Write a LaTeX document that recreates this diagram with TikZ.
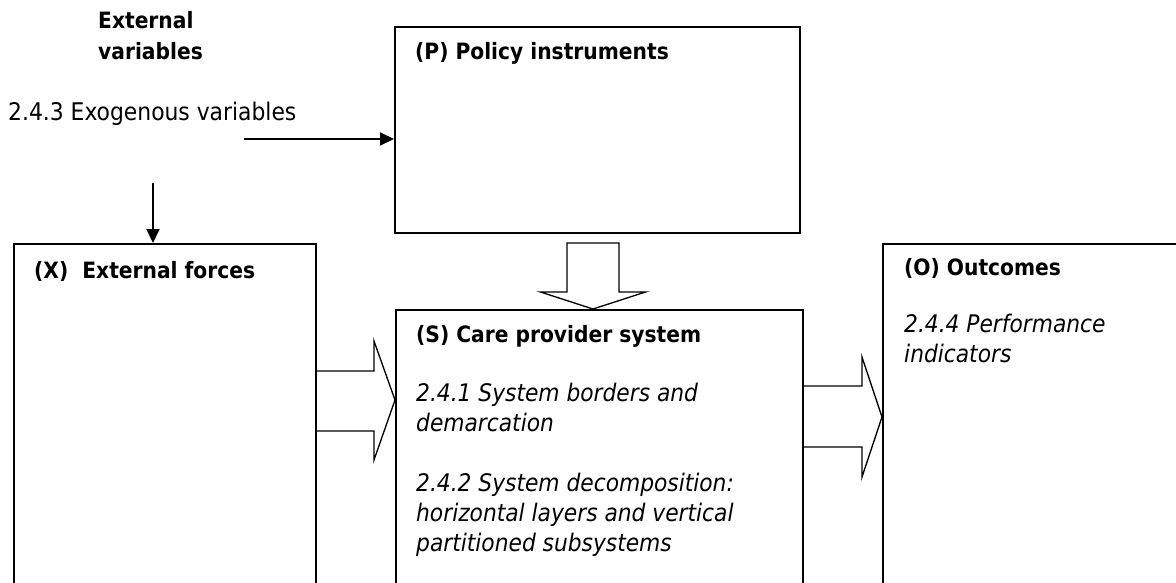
\documentclass[tikz,border=0pt]{standalone}
\usepackage{fontspec}
\setmainfont{DejaVu Sans Condensed}
\usetikzlibrary{arrows.meta,calc}
\begin{document}
\begin{tikzpicture}[x=1pt,y=-1pt,
  box/.style={draw,line width=2pt,rectangle,inner sep=0pt,anchor=north west},
  txt/.style={anchor=base west,inner sep=0pt,font=\fontsize{24.3}{30}\selectfont},
  ttl/.style={anchor=base west,inner sep=0pt,font=\fontsize{22.5}{28}\selectfont\bfseries},
  itx/.style={txt,font=\fontsize{24.2}{30}\selectfont\itshape},
  blk/.style={draw,line width=1.3pt,fill=white,line join=miter},
  thin/.style={line width=2pt,-{Triangle[length=14pt,width=13pt]}}
]
% canvas in pixel units, y pointing down
\useasboundingbox (0,0) rectangle (1176,582);
\clip (0,0) rectangle (1176,582);

% main boxes (the lower three run past the bottom edge)
\node[box,minimum width=405pt,minimum height=206pt] (P) at (394,26) {};
\node[box,minimum width=302pt,minimum height=400pt] (X) at (13,243) {};
\node[box,minimum width=407pt,minimum height=320pt] (S) at (395,309) {};
\node[box,minimum width=340pt,minimum height=400pt] (O) at (882,243) {};

% external variables
\node[ttl] (ext1) at (98,28.5) {External};
\node[ttl] (ext2) at (98,59.5) {variables};
\node[txt] (exo) at (8,120) {2.4.3 Exogenous variables};

% box texts
\node[ttl] (ptitle) at (415,59.5) {(P) Policy instruments};
\node[ttl] (xtitle) at (34,278.5) {(X)\ \ External forces};
\node[ttl] (stitle) at (416,342) {(S) Care provider system};
\node[itx] (s1a) at (416,401) {2.4.1 System borders and};
\node[itx] (s1b) at (416,431) {demarcation};
\node[itx] (s2a) at (416,491) {2.4.2 System decomposition:};
\node[itx] (s2b) at (416,521) {horizontal layers and vertical};
\node[itx] (s2c) at (416,551) {partitioned subsystems};
\node[ttl] (otitle) at (904,275.5) {(O) Outcomes};
\node[itx] (o1a) at (904,332) {2.4.4 Performance};
\node[itx] (o1b) at (904,362) {indicators};

% thin arrows from the exogenous variables
\coordinate (exoH) at (244,139);
\coordinate (exoV) at (153,183);
\draw[thin] (exoH) -- ($(P.north west)+(0,113)$);
\draw[thin] (exoV) -- ($(X.north west)+(140,0)$);

% block arrow P -> S
\coordinate (psTip) at ($(S.north west)+(198,0)$);
\draw[blk] ($(psTip)+(-26,-66)$) -- ($(psTip)+(26,-66)$) -- ($(psTip)+(26,-17)$)
  -- ($(psTip)+(52.5,-17)$) -- (psTip) -- ($(psTip)+(-52.5,-17)$)
  -- ($(psTip)+(-26,-17)$) -- cycle;

% block arrow X -> S
\coordinate (xsTip) at ($(S.north west)+(0,91)$);
\coordinate (xsTail) at (X.east |- xsTip);
\draw[blk] ($(xsTail)+(0,-29)$) -- ($(xsTip)+(-21,-29)$) -- ($(xsTip)+(-21,-59)$)
  -- (xsTip) -- ($(xsTip)+(-21,60)$) -- ($(xsTip)+(-21,31)$) -- ($(xsTail)+(0,31)$);

% block arrow S -> O
\coordinate (soTip) at ($(O.north west)+(0,174)$);
\coordinate (soTail) at (S.east |- soTip);
\draw[blk] ($(soTail)+(0,-31)$) -- ($(soTip)+(-20,-31)$) -- ($(soTip)+(-20,-60)$)
  -- (soTip) -- ($(soTip)+(-20,60)$) -- ($(soTip)+(-20,30)$) -- ($(soTail)+(0,30)$);
\end{tikzpicture}
\end{document}
